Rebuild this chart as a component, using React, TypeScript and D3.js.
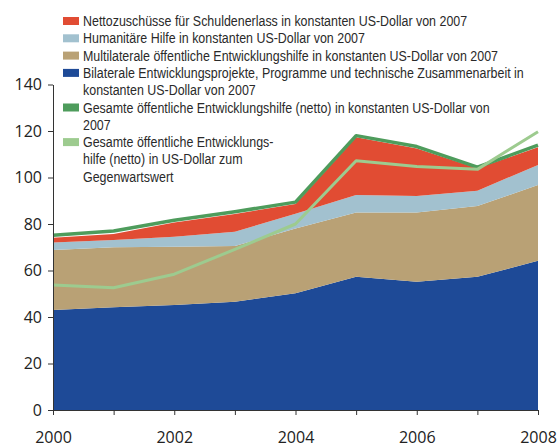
import { useEffect, useRef } from 'react'
import * as d3 from 'd3'

const years = [2000, 2001, 2002, 2003, 2004, 2005, 2006, 2007, 2008]

// stacked components, constant 2007 US-Dollar (billions)
const bilateral = [43.0, 44.2, 45.2, 46.6, 50.2, 57.3, 55.2, 57.3, 64.2]
const multilateral = [25.8, 25.8, 25.0, 23.9, 27.9, 27.6, 29.7, 30.4, 32.6]
const humanitarian = [3.2, 3.1, 4.3, 6.2, 6.3, 7.6, 7.1, 6.6, 8.6]
const debtRelief = [2.1, 2.6, 6.1, 7.6, 4.2, 24.8, 20.5, 9.7, 7.6]

// lines
const totalConstant = [75.2, 77.0, 81.6, 85.3, 89.4, 118.0, 113.3, 104.5, 113.9]
const totalCurrent = [53.8, 52.6, 58.4, 69.1, 80.0, 107.2, 104.7, 103.5, 119.7]

const yTicks = [0, 20, 40, 60, 80, 100, 120, 140]
const xLabels = [2000, 2002, 2004, 2006, 2008]

const keys = ['bilateral', 'multilateral', 'humanitarian', 'debtRelief']
const colors = {
    bilateral: '#1e4a97',
    multilateral: '#b9a175',
    humanitarian: '#a2c1cf',
    debtRelief: '#e14c33'
}
const totalConstantColor = '#4e9c5c'
const totalCurrentColor = '#9dcb8f'

// legend rows: text, swatch colour (null = continuation line)
const legendRows: [string, string | null][] = [
    ['Nettozuschüsse für Schuldenerlass in konstanten US-Dollar von 2007', colors.debtRelief],
    ['Humanitäre Hilfe in konstanten US-Dollar von 2007', colors.humanitarian],
    ['Multilaterale öffentliche Entwicklungshilfe in konstanten US-Dollar von 2007', colors.multilateral],
    ['Bilaterale Entwicklungsprojekte, Programme und technische Zusammenarbeit in', colors.bilateral],
    ['konstanten US-Dollar von 2007', null],
    ['Gesamte öffentliche Entwicklungshilfe (netto) in konstanten US-Dollar von', totalConstantColor],
    ['2007', null],
    ['Gesamte öffentliche Entwicklungs-', totalCurrentColor],
    ['hilfe (netto) in US-Dollar zum', null],
    ['Gegenwartswert', null]
]
const legendLongest = 441 // px width of the "Bilaterale ..." row in the original

const W = 558
const H = 448
const margin = { left: 53, right: 20, top: 84.5, bottom: 38 }

const App = () => {
    const ref = useRef<SVGSVGElement>(null)

    useEffect(() => {
        const svg = d3.select(ref.current)
        svg.selectAll('*').remove()

        const x = d3.scaleLinear().domain([2000, 2008]).range([margin.left, W - margin.right])
        const y = d3.scaleLinear().domain([0, 140]).range([H - margin.bottom, margin.top])

        const table = years.map((yr, i) => ({
            year: yr,
            bilateral: bilateral[i],
            multilateral: multilateral[i],
            humanitarian: humanitarian[i],
            debtRelief: debtRelief[i]
        }))
        const series = d3.stack().keys(keys)(table as any)

        const area = d3
            .area<any>()
            .x(d => x(d.data.year))
            .y0(d => y(d[0]))
            .y1(d => y(d[1]))

        svg.append('g')
            .selectAll('path')
            .data(series)
            .join('path')
            .attr('fill', d => colors[d.key])
            .attr('d', area)

        const line = d3
            .line<number>()
            .x((d, i) => x(years[i]))
            .y(d => y(d))

        svg.append('path')
            .attr('d', line(totalConstant))
            .attr('fill', 'none')
            .attr('stroke', totalConstantColor)
            .attr('stroke-width', 3.5)
            .attr('stroke-linejoin', 'round')

        svg.append('path')
            .attr('d', line(totalCurrent))
            .attr('fill', 'none')
            .attr('stroke', totalCurrentColor)
            .attr('stroke-width', 3)
            .attr('stroke-linejoin', 'round')

        // y axis
        const yAxis = svg
            .append('g')
            .attr('transform', `translate(${margin.left},0)`)
            .call(d3.axisLeft(y).tickValues(yTicks).tickSize(5).tickPadding(6).tickSizeOuter(0))
        yAxis.select('.domain').attr('stroke', '#333')
        yAxis.selectAll('.tick line').attr('stroke', '#333')
        yAxis.selectAll('.tick text')
            .attr('font-family', "'Open Sans', sans-serif")
            .attr('font-size', 16)
            .attr('fill', '#222')

        // x axis
        const xAxis = svg
            .append('g')
            .attr('transform', `translate(0,${H - margin.bottom})`)
            .call(
                d3
                    .axisBottom(x)
                    .tickValues(years)
                    .tickSize(5)
                    .tickSizeOuter(0)
                    .tickFormat(d => (xLabels.includes(d as number) ? String(d) : ''))
                    .tickPadding(17)
            )
        xAxis.select('.domain').attr('stroke', '#333')
        xAxis.selectAll('.tick line').attr('stroke', '#333')
        xAxis.selectAll('.tick text')
            .attr('font-family', "'Open Sans', sans-serif")
            .attr('font-size', 16)
            .attr('fill', '#222')

        // legend
        const legend = svg.append('g').attr('transform', 'translate(63,26)')
        const rows = legend
            .selectAll('g')
            .data(legendRows)
            .join('g')
            .attr('transform', (d, i) => `translate(0,${i * 17.3})`)
        rows.filter(d => d[1] !== null)
            .append('rect')
            .attr('x', 0)
            .attr('y', -9)
            .attr('width', 16)
            .attr('height', 8)
            .attr('fill', d => d[1] as string)
        const texts = rows
            .append('text')
            .attr('font-family', "'Liberation Sans', Arial, sans-serif")
            .attr('font-size', 14.5)
            .attr('fill', '#2a2a2a')
            .text(d => d[0])

        // same horizontal squeeze on every row, so the longest one fits the original width
        const widest = d3.max(texts.nodes(), n => (n as SVGTextElement).getComputedTextLength()) || legendLongest
        const sx = Math.min(1, legendLongest / widest)
        texts.attr('transform', `translate(20,0) scale(${sx},1)`)
    }, [])

    return (
        <svg
            ref={ref}
            width={W}
            height={H}
            style={{ position: 'absolute', left: 0, top: 0, background: '#fff' }}
        />
    )
}

export default App
